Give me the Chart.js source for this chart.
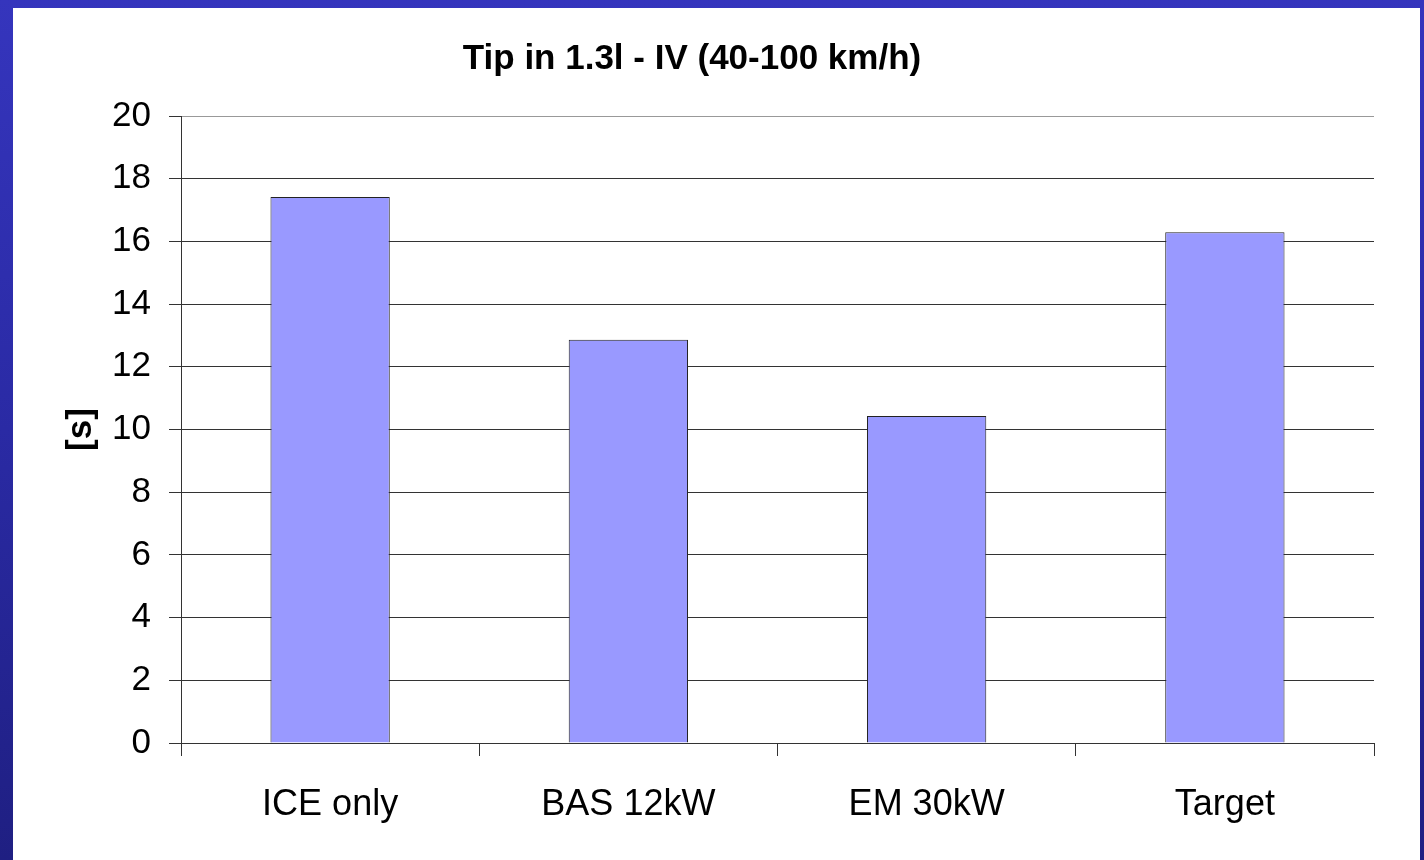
<!DOCTYPE html>
<html>
<head>
<meta charset="utf-8">
<title>Tip in 1.3l - IV</title>
<script src="https://cdn.jsdelivr.net/npm/chart.js@4.4.1/dist/chart.umd.min.js"></script>
<style>
    html, body {
        margin: 0;
        padding: 0;
        width: 1424px;
        height: 860px;
        overflow: hidden;
        background: linear-gradient(to bottom, #3535bd 0%, #2a2aa4 50%, #1f1f82 100%);
    }
    #panel {
        position: absolute;
        left: 13px;
        top: 8px;
        width: 1407px;
        height: 852px;
        background: #ffffff;
    }
</style>
</head>
<body>
<div id="panel">
    <canvas id="chart" width="1407" height="852"></canvas>
</div>
<script>
// Chart data
const chartTitle = 'Tip in 1.3l - IV (40-100 km/h)';
const categories = ['ICE only', 'BAS 12kW', 'EM 30kW', 'Target'];
const tipInTimes = [17.42, 12.86, 10.43, 16.29];
const yTicks = [0, 2, 4, 6, 8, 10, 12, 14, 16, 18, 20];

Chart.defaults.font.family = "'Liberation Sans', Arial, sans-serif";
Chart.defaults.color = '#000';

// Title drawn by hand so it can sit slightly left of centre, like the original
const titlePlugin = {
    id: 'slideTitle',
    afterDraw(chart) {
        const ctx = chart.ctx;
        ctx.save();
        ctx.font = "bold 35px 'Liberation Sans', Arial, sans-serif";
        ctx.fillStyle = '#000';
        ctx.textAlign = 'center';
        ctx.textBaseline = 'alphabetic';
        ctx.fillText(chartTitle, 679, 61);
        ctx.restore();
    }
};

const ctx = document.getElementById('chart').getContext('2d');
new Chart(ctx, {
    type: 'bar',
    data: {
        labels: categories,
        datasets: [{
            label: '[s]',
            data: tipInTimes,
            backgroundColor: '#9999ff',
            borderColor: '#222',
            borderWidth: 1,
            categoryPercentage: 1.0,
            barPercentage: 0.4
        }]
    },
    options: {
        responsive: false,
        animation: false,
        layout: {
            padding: { left: 0, right: 46, top: 108, bottom: 0 }
        },
        plugins: {
            legend: { display: false },
            title: { display: false },
            tooltip: { enabled: false }
        },
        scales: {
            x: {
                offset: true,
                grid: {
                    offset: true,
                    drawOnChartArea: true,
                    color: (c) => c.index === categories.length ? '#aaaaaa' : 'rgba(0,0,0,0)',
                    tickColor: '#333',
                    tickLength: 13,
                    lineWidth: 1
                },
                border: { color: '#333', width: 1 },
                ticks: {
                    font: { size: 36 },
                    color: '#000',
                    padding: 27,
                    maxRotation: 0
                },
                afterFit(scale) {
                    scale.height = 117;
                }
            },
            y: {
                min: 0,
                max: 20,
                afterBuildTicks(scale) {
                    scale.ticks = yTicks.map(v => ({ value: v }));
                },
                grid: {
                    color: (c) => c.tick && c.tick.value === 20 ? '#999999' : '#333333',
                    tickColor: '#333',
                    tickLength: 12,
                    lineWidth: 1
                },
                border: { color: '#333', width: 1 },
                ticks: {
                    font: { size: 35 },
                    color: '#000',
                    padding: 18
                },
                title: {
                    display: true,
                    text: '[s]',
                    font: { size: 35, weight: 'bold' },
                    color: '#000',
                    padding: { top: 47, bottom: 0 }
                },
                afterFit(scale) {
                    scale.width = 168;
                }
            }
        }
    },
    plugins: [titlePlugin]
});
</script>
</body>
</html>
